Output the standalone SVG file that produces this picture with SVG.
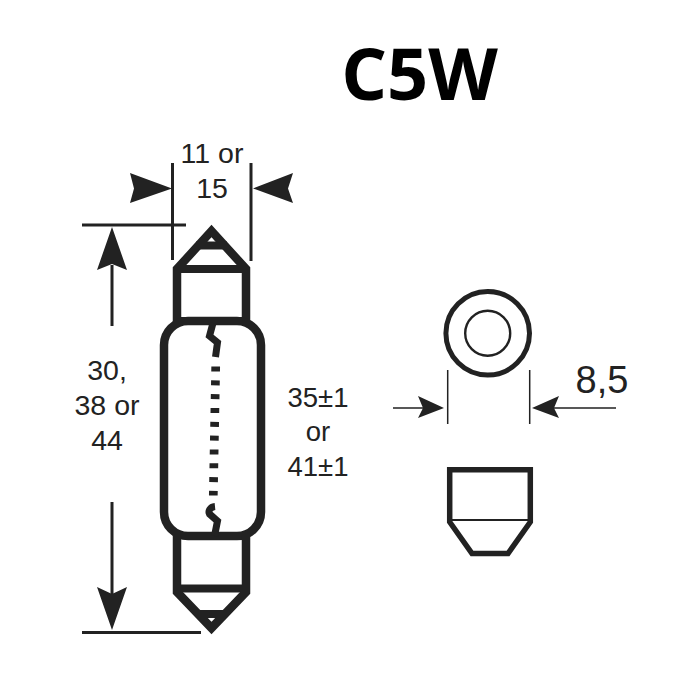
<svg xmlns="http://www.w3.org/2000/svg" width="700" height="700" viewBox="0 0 700 700">
<style>
.t{font-family:"Liberation Sans",Arial,sans-serif;fill:#222;text-anchor:middle}
.d{font-size:28.5px}
.e{font-size:27.5px}
.k{fill:#222;stroke:none}
.s{fill:none;stroke:#222;stroke-linejoin:miter}
</style>
<rect width="700" height="700" fill="#fff"/>
<text id="title" x="419.500" y="100" font-family="'Open Sans',sans-serif" font-weight="700" font-size="72" fill="#000" text-anchor="middle">C5W</text>
<g id="bulb">
<path class="s" stroke-width="8.500" d="M177 325V269L211.500 231L246 269V325"/>
<path class="s" stroke-width="8" d="M177 269H246M177 321H246M196 245.500H227"/>
<rect class="s" stroke-width="8.500" x="164" y="321" width="97" height="215" rx="24"/>
<path class="s" stroke-width="8.500" d="M177 536V592L211.500 628L246 592V536"/>
<path class="s" stroke-width="8" d="M177 588.500H246M197 614H226"/>
<path class="s" stroke-width="7" d="M213 323L209.500 336L217.500 342.500L215.500 357"/>
<path class="s" stroke-width="7" d="M215 506.500C210 507 208 511 209.500 514L217.500 521L214.500 536"/>
<path class="s" stroke-width="8.700" stroke-dasharray="5 8.830" d="M215.700 366.500L213.300 495.500"/>
</g>
<g id="cap-top">
<circle class="s" cx="487.700" cy="333.300" r="41.800" stroke-width="5"/>
<circle class="s" cx="487.700" cy="333.300" r="22.500" stroke-width="2.400"/>
</g>
<g id="cap-side">
<path class="s" stroke-width="5.500" d="M449.700 522V469.700H530.300V522L508 553.500H472Z"/>
<path class="s" stroke-width="2" d="M450 520H530"/>
</g>
<g id="connectors">
<path class="s" stroke-width="3" d="M172.500 163V260M251 163V261M82 225H186M82 632.500H201M112 265V326M112 502V620"/>
<path class="s" stroke-width="1.500" d="M447.700 370V424M529.700 370V424M393 408H430M616 408H550"/>
<path class="k" d="M172 188.500L130 173L134 188.500L130 203Z"/>
<path class="k" d="M253 188.500L293 173L288 188.500L293 203Z"/>
<path class="k" d="M112 227L97 270L112 264L127 270Z"/>
<path class="k" d="M112 630L97 587L112 594L127 587Z"/>
<path class="k" d="M444 408L418 396L423 408L418 418Z"/>
<path class="k" d="M532 408L559 396L554 408L559 418Z"/>
</g>
<g id="labels">
<text class="t" font-size="28.500" x="212" y="163">11 or</text>
<text class="t" font-size="28.500" x="212" y="198">15</text>
<text class="t d" x="107" y="380">30,</text>
<text class="t d" x="107" y="415">38 or</text>
<text class="t d" x="107" y="450">44</text>
<text class="t e" x="318" y="407">35±1</text>
<text class="t e" x="318" y="441">or</text>
<text class="t e" x="318" y="476">41±1</text>
<text class="t" font-size="38" x="602" y="393">8,5</text>
</g>
</svg>
